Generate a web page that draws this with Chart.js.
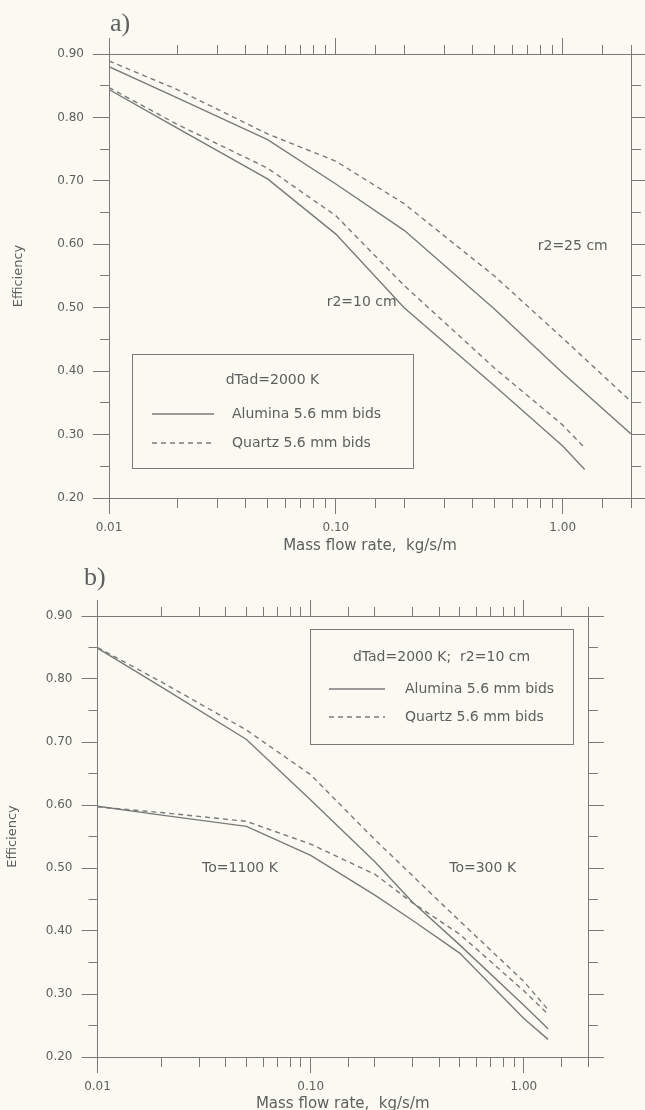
<!DOCTYPE html>
<html>
<head>
<meta charset="utf-8">
<title>Efficiency vs mass flow rate</title>
<script src="https://cdn.jsdelivr.net/npm/chart.js@4.4.1/dist/chart.umd.min.js"></script>
<style>
    html, body { margin: 0; padding: 0; background: #fafaf2; }
    .panel { position: absolute; left: 0; width: 645px; height: 555px; }
    #panelA { top: 0; }
    #panelB { top: 555px; }
</style>
</head>
<body>
<div class="panel" id="panelA"><canvas id="chartA" width="645" height="555"></canvas></div>
<div class="panel" id="panelB"><canvas id="chartB" width="645" height="555"></canvas></div>
<script>
// Axis ranges and labelled ticks
const flowMin = 0.01;
const flowMax = 2.0;
const effMin = 0.20;
const effMax = 0.90;
const xTickLabels = [0.01, 0.10, 1.00];
const yTickLabels = [0.20, 0.30, 0.40, 0.50, 0.60, 0.70, 0.80, 0.90];

// a) dTad=2000 K, r2 = 25 cm
const flowA25 = [0.01, 0.02, 0.05, 0.1, 0.2, 0.5, 1.0, 2.0];
const aluminaA25 = [0.880, 0.831, 0.765, 0.695, 0.622, 0.498, 0.397, 0.301];
const quartzA25 = [0.889, 0.844, 0.774, 0.731, 0.664, 0.550, 0.452, 0.352];

// a) dTad=2000 K, r2 = 10 cm
const flowA10 = [0.01, 0.02, 0.05, 0.1, 0.2, 0.5, 1.0, 1.25];
const aluminaA10 = [0.844, 0.783, 0.703, 0.616, 0.500, 0.377, 0.282, 0.245];
const quartzA10 = [0.847, 0.789, 0.720, 0.645, 0.535, 0.405, 0.315, 0.279];

// b) dTad=2000 K, r2 = 10 cm, two inlet temperatures
const flowB = [0.01, 0.02, 0.05, 0.1, 0.2, 0.3, 0.5, 1.0, 1.3];
const alumina300 = [0.849, 0.787, 0.704, 0.608, 0.510, 0.446, 0.378, 0.282, 0.245];
const quartz300 = [0.850, 0.795, 0.719, 0.648, 0.545, 0.488, 0.416, 0.320, 0.275];
const alumina1100 = [0.598, 0.584, 0.566, 0.520, 0.457, 0.417, 0.365, 0.261, 0.228];
const quartz1100 = [0.597, 0.588, 0.574, 0.538, 0.490, 0.445, 0.395, 0.305, 0.268];

const seriesLabels = ['Alumina 5.6 mm bids', 'Quartz 5.6 mm bids'];

// Styles
const TEXT = '#5e5e5e';
const AXIS = '#7a7a7a';
const LINE = '#7a7a7a';
const SANS = '"DejaVu Sans", Verdana, sans-serif';
const TICK = 16;
const MINOR = 9;

function isLabelled(value, list) {
    return list.some(t => Math.abs(t - value) < 1e-6);
}

// Minor ticks keep only the part next to the axis line
function tickDash(position, list) {
    return ctx => {
        if (!ctx.tick || isLabelled(ctx.tick.value, list)) return [];
        return (position === 'left' || position === 'top') ? [0, TICK - MINOR, MINOR, 0] : [MINOR, TICK - MINOR];
    };
}

function series(xs, ys, label, dashed) {
    return {
        label: label,
        data: xs.map((x, i) => ({ x: x, y: ys[i] })),
        borderColor: LINE,
        borderWidth: 1.4,
        borderDash: dashed ? [5, 4] : [],
        pointRadius: 0,
        tension: 0,
        fill: false
    };
}

function xScale(position, height, titlePad) {
    return {
        type: 'logarithmic',
        position: position,
        min: flowMin,
        max: flowMax,
        border: { display: true, color: AXIS, width: 1 },
        grid: {
            drawOnChartArea: false,
            drawTicks: true,
            tickLength: TICK,
            tickColor: AXIS,
            tickWidth: 1,
            tickBorderDash: tickDash(position, xTickLabels)
        },
        ticks: {
            display: position === 'bottom',
            autoSkip: false,
            maxRotation: 0,
            padding: 7,
            color: TEXT,
            font: { family: SANS, size: 12 },
            callback: v => isLabelled(v, xTickLabels) ? v.toFixed(2) : ''
        },
        title: {
            display: position === 'bottom',
            text: 'Mass flow rate,  kg/s/m',
            color: TEXT,
            font: { family: SANS, size: 15, lineHeight: 1 },
            padding: { top: 0, bottom: titlePad }
        },
        afterFit: s => { s.height = height; }
    };
}

function yScale(position, width, titlePad) {
    return {
        type: 'linear',
        position: position,
        min: effMin,
        max: effMax,
        border: { display: true, color: AXIS, width: 1 },
        grid: {
            drawOnChartArea: false,
            drawTicks: true,
            tickLength: TICK,
            tickColor: AXIS,
            tickWidth: 1,
            tickBorderDash: tickDash(position, yTickLabels)
        },
        ticks: {
            display: position === 'left',
            stepSize: 0.05,
            autoSkip: false,
            padding: 9,
            color: TEXT,
            font: { family: SANS, size: 12 },
            callback: v => isLabelled(v, yTickLabels) ? v.toFixed(2) : ''
        },
        title: {
            display: position === 'left',
            text: 'Efficiency',
            color: TEXT,
            font: { family: SANS, size: 13, lineHeight: 1.2 },
            padding: { top: titlePad, bottom: 0 }
        },
        afterFit: s => { s.width = width; }
    };
}

// Panel letter, curve notes and the boxed legend
const annotate = {
    id: 'annotate',
    afterDraw(chart, args, opts) {
        const { ctx, chartArea, scales } = chart;
        ctx.save();
        ctx.fillStyle = TEXT;

        ctx.font = '26px "Liberation Serif", "Times New Roman", serif';
        ctx.textAlign = 'left';
        ctx.textBaseline = 'alphabetic';
        ctx.fillText(opts.panel, opts.panelAt[0], opts.panelAt[1]);

        ctx.font = '14px ' + SANS;
        ctx.textAlign = 'center';
        ctx.textBaseline = 'middle';
        opts.notes.forEach(n => {
            ctx.fillText(n.text, scales.x.getPixelForValue(n.x), scales.y.getPixelForValue(n.y));
        });

        const b = opts.box;
        const left = Math.round(chartArea.left + b.x);
        const top = Math.round(chartArea.top + b.y);
        ctx.strokeStyle = AXIS;
        ctx.lineWidth = 1;
        ctx.strokeRect(left + 0.5, top + 0.5, b.w, b.h);
        ctx.fillText(opts.heading, left + b.w / 2, top + b.rows[0]);

        chart.data.datasets.slice(0, 2).forEach((ds, i) => {
            const y = top + b.rows[i + 1];
            ctx.setLineDash(ds.borderDash);
            ctx.strokeStyle = ds.borderColor;
            ctx.lineWidth = ds.borderWidth;
            ctx.beginPath();
            ctx.moveTo(left + b.sample[0], y);
            ctx.lineTo(left + b.sample[1], y);
            ctx.stroke();
            ctx.setLineDash([]);
            ctx.textAlign = 'left';
            ctx.fillText(ds.label, left + b.textX, y);
        });
        ctx.restore();
    }
};

function makeChart(canvasId, datasets, layout, annotations) {
    return new Chart(document.getElementById(canvasId), {
        type: 'line',
        data: { datasets: datasets },
        options: {
            responsive: false,
            animation: false,
            layout: { padding: layout.padding },
            scales: {
                x: xScale('bottom', layout.bottom, layout.xTitlePad),
                x2: xScale('top', 14, 0),
                y: yScale('left', layout.left, layout.yTitlePad),
                y2: yScale('right', 14, 0)
            },
            plugins: {
                legend: { display: false },
                tooltip: { enabled: false },
                annotate: annotations
            }
        },
        plugins: [annotate]
    });
}

// Chart a)
makeChart('chartA', [
    series(flowA25, aluminaA25, seriesLabels[0], false),
    series(flowA25, quartzA25, seriesLabels[1], true),
    series(flowA10, aluminaA10, seriesLabels[0], false),
    series(flowA10, quartzA10, seriesLabels[1], true)
], {
    padding: { top: 40, right: 0, bottom: 0, left: 0 },
    left: 109, bottom: 57, xTitlePad: 1.5, yTitlePad: 11
}, {
    panel: 'a)',
    panelAt: [110, 31],
    notes: [
        { text: 'r2=10 cm', x: 0.130, y: 0.509 },
        { text: 'r2=25 cm', x: 1.107, y: 0.597 }
    ],
    heading: 'dTad=2000 K',
    box: { x: 23, y: 300, w: 281, h: 114, rows: [26, 60, 89], sample: [20, 82], textX: 100 }
});

// Chart b)
makeChart('chartB', [
    series(flowB, alumina300, seriesLabels[0], false),
    series(flowB, quartz300, seriesLabels[1], true),
    series(flowB, alumina1100, seriesLabels[0], false),
    series(flowB, quartz1100, seriesLabels[1], true)
], {
    padding: { top: 47, right: 43, bottom: 0, left: 0 },
    left: 97.5, bottom: 53, xTitlePad: -2, yTitlePad: 5
}, {
    panel: 'b)',
    panelAt: [84, 30],
    notes: [
        { text: 'To=1100 K', x: 0.0466, y: 0.50 },
        { text: 'To=300 K', x: 0.641, y: 0.50 }
    ],
    heading: 'dTad=2000 K;  r2=10 cm',
    box: { x: 212.5, y: 13, w: 263, h: 115, rows: [28, 60, 88], sample: [19, 75], textX: 95 }
});
</script>
</body>
</html>
